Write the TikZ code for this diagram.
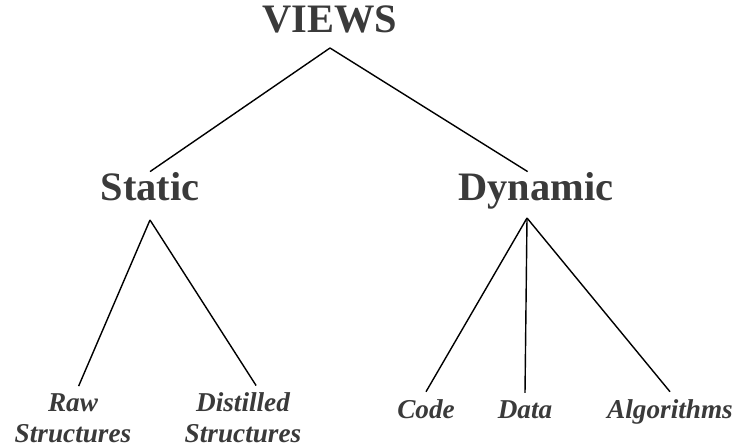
\documentclass[tikz,border=0pt]{standalone}
\usepackage{fontspec}
\setmainfont{Liberation Serif}
\definecolor{inkgray}{RGB}{58,58,58}
\begin{document}
\begin{tikzpicture}
[x=0.02cm,y=-0.02cm,
  headdecorate/.style={text=inkgray,font=\fontsize{23}{26}\selectfont\bfseries,inner sep=0pt,anchor=base},%
  leafdecorate/.style={text=inkgray,font=\fontsize{15.5}{17.6}\selectfont\bfseries\itshape,inner sep=4pt,align=center},%
  linedecorate/.style={-,line width=0.8pt}]
\useasboundingbox (0,0) rectangle (736,447);
%%% top level
\node (views) at (330,32) [headdecorate] {VIEWS};
\coordinate (viewsfoot) at (330,48);
%%% second level
\node (static) at (150,200) [headdecorate] {Static};
\coordinate (staticfoot) at (150,220);
\node (dynamic) at (536,200) [headdecorate] {Dynamic};
\coordinate (dynamicfoot) at (527,218);
%%% leaves
\node (raw) at (73,418) [leafdecorate] {Raw\\Structures};
\node (distilled) at (243,418) [leafdecorate] {Distilled\\Structures};
\node (code) at (426,418) [leafdecorate,anchor=base] {Code};
\node (data) at (525,418) [leafdecorate,anchor=base] {Data};
\node (algo) at (670,418) [leafdecorate,anchor=base] {Algorithms};
% edges or lines
\path
(viewsfoot) edge[linedecorate] (static.north)
(viewsfoot) edge[linedecorate] (dynamic.114)
(staticfoot) edge[linedecorate] (raw.80)
(staticfoot) edge[linedecorate] (distilled.68)
(dynamicfoot) edge[linedecorate] (code.north)
(dynamicfoot) edge[linedecorate] (data.north)
(dynamicfoot) edge[linedecorate] (algo.north);
\end{tikzpicture}
\end{document}
